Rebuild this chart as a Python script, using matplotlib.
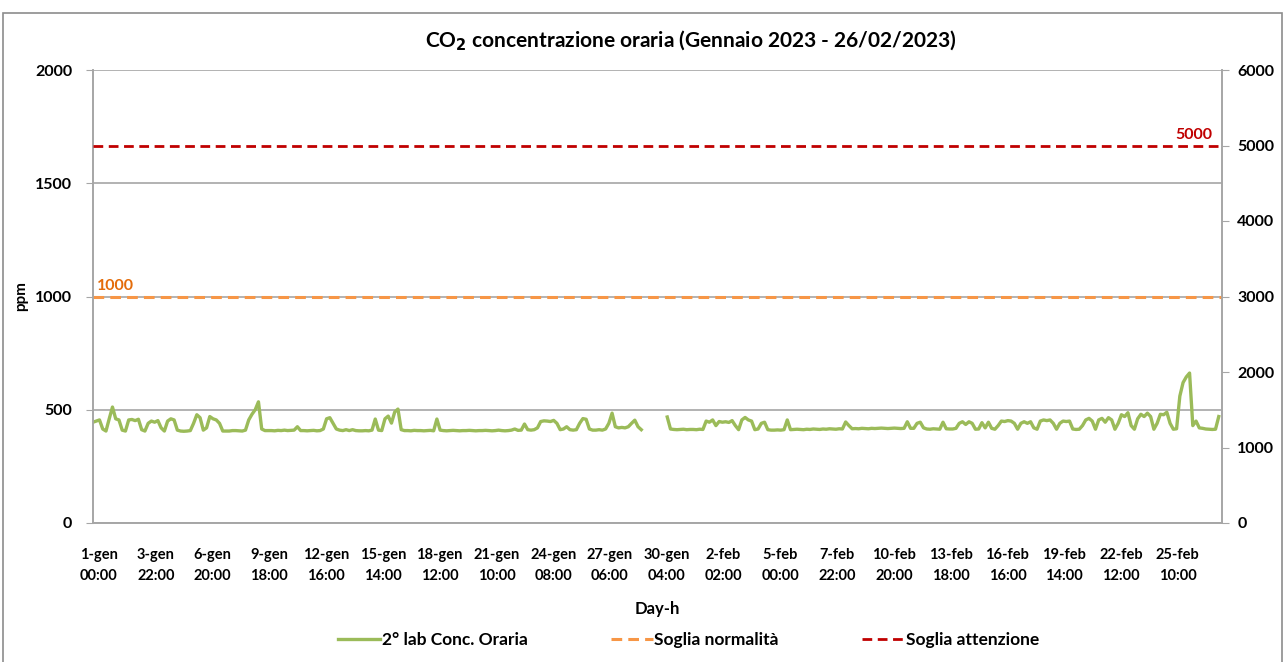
import numpy as np
import matplotlib
matplotlib.use('Agg')
import matplotlib.pyplot as plt
import matplotlib.transforms as mtransforms
from matplotlib.patches import Rectangle

plt.rcParams['font.family'] = ['Lato', 'DejaVu Sans']
plt.rcParams['font.weight'] = 'bold'

# CO2 readings, one value every 4 hours starting 1-gen 00:00 (nan = no data)
nan = np.nan
conc_4h = [
    445, 450, 455, 415, 406, 460, 512, 460, 455, 410,
    406, 455, 457, 452, 458, 412, 406, 440, 450, 445,
    452, 420, 406, 450, 460, 455, 410, 406, 405, 406,
    408, 440, 478, 465, 410, 420, 470, 460, 455, 440,
    406, 406, 406, 408, 408, 407, 406, 410, 455, 480,
    500, 535, 415, 408, 408, 408, 407, 409, 408, 410,
    408, 409, 410, 425, 408, 408, 407, 408, 409, 407,
    408, 415, 460, 465, 440, 415, 410, 408, 412, 408,
    412, 408, 407, 407, 408, 407, 410, 459, 410, 408,
    460, 472, 441, 490, 503, 412, 408, 408, 407, 409,
    408, 408, 407, 408, 409, 407, 459, 410, 408, 407,
    408, 409, 408, 407, 408, 408, 409, 408, 407, 408,
    408, 409, 408, 407, 408, 410, 408, 407, 408, 410,
    415, 409, 410, 437, 412, 410, 412, 420, 448, 451,
    450, 448, 453, 440, 412, 415, 425, 412, 410, 412,
    440, 461, 458, 415, 410, 410, 412, 410, 415, 440,
    485, 425, 420, 422, 420, 425, 440, 454, 425, 412,
    nan, nan, nan, nan, nan, nan, nan, 468, 415, 413,
    412, 413, 414, 412, 413, 413, 412, 414, 413, 450,
    445, 455, 430, 448, 445, 447, 444, 452, 430, 412,
    455, 466, 455, 450, 412, 415, 440, 445, 412, 410,
    410, 411, 410, 412, 455, 412, 413, 414, 413, 412,
    414, 413, 415, 414, 413, 415, 414, 416, 415, 414,
    416, 415, 446, 430, 416, 417, 416, 418, 417, 416,
    418, 417, 418, 419, 418, 417, 418, 419, 418, 417,
    418, 447, 418, 418, 440, 445, 420, 415, 414, 416,
    415, 414, 445, 416, 415, 415, 418, 440, 447, 435,
    447, 440, 414, 415, 443, 420, 445, 418, 414, 430,
    450, 448, 452, 450, 440, 414, 440, 447, 440, 447,
    420, 414, 450, 455, 452, 455, 440, 414, 440, 450,
    448, 450, 415, 413, 414, 430, 455, 462, 450, 414,
    455, 462, 445, 465, 455, 414, 440, 478, 470, 487,
    430, 414, 460, 480, 470, 485, 470, 414, 440, 480,
    478, 489, 440, 414, 416, 560, 620, 645, 662, 430,
    450, 420, 418, 415, 414, 413, 414, 470,
]

soglia_normalita = 1000
soglia_attenzione = 5000

tick_labels = [
    '1-gen\n00:00', '3-gen\n22:00', '6-gen\n20:00', '9-gen\n18:00',
    '12-gen\n16:00', '15-gen\n14:00', '18-gen\n12:00', '21-gen\n10:00',
    '24-gen\n08:00', '27-gen\n06:00', '30-gen\n04:00', '2-feb\n02:00',
    '5-feb\n00:00', '7-feb\n22:00', '10-feb\n20:00', '13-feb\n18:00',
    '16-feb\n16:00', '19-feb\n14:00', '22-feb\n12:00', '25-feb\n10:00',
]

green = '#9BBB59'
orange = '#F79646'
red = '#C00000'
grid_col = '#A6A6A6'

hours = np.arange(len(conc_4h)) * 4
n_hours = len(conc_4h) * 4

fig = plt.figure(figsize=(12.87, 6.62), dpi=100)
ax = fig.add_axes([93 / 1287, 1 - 523 / 662, (1222 - 93) / 1287, (523 - 70) / 662])
ax2 = ax.twinx()

# frame around the whole chart
fig.patches.append(Rectangle((3 / 1287, -0.02), 1279 / 1287, 1 - 13 / 662 + 0.02,
                             transform=fig.transFigure, fill=False,
                             edgecolor='#8C8C8C', linewidth=1.2))

l1, = ax.plot(hours, conc_4h, color=green, linewidth=2.4, label='2° lab Conc. Oraria', zorder=3)
l2 = ax.axhline(soglia_normalita, color=orange, linewidth=2.2, linestyle=(0, (3.5, 2)),
                label='Soglia normalità', zorder=3)
l3 = ax2.axhline(soglia_attenzione, color=red, linewidth=2.0, linestyle=(0, (3.5, 2)),
                 label='Soglia attenzione', zorder=3)

ax.set_xlim(0, n_hours)
ax.set_ylim(0, 2000)
ax2.set_ylim(0, 6000)
ax.set_yticks([0, 500, 1000, 1500, 2000])
ax2.set_yticks(range(0, 6001, 1000))
ax.yaxis.grid(True, color=grid_col, linewidth=1.2, zorder=0)
ax.set_axisbelow(True)

ax.set_xticks(np.arange(len(tick_labels)) * 70)
ax.set_xticklabels(tick_labels, fontsize=10.5, fontweight='bold', linespacing=1.6)
ax.tick_params(axis='x', length=0, pad=18)
ax.tick_params(axis='y', length=5, color=grid_col, labelsize=11.5, pad=10)
ax2.tick_params(axis='y', length=5, color=grid_col, labelsize=11.5, pad=6)

# nudge the category labels a bit to the right, like the original
shift = mtransforms.ScaledTranslation(6 / 100, 0, fig.dpi_scale_trans)
for lab in ax.get_xticklabels():
    lab.set_transform(lab.get_transform() + shift)

for a in (ax, ax2):
    a.spines['top'].set_visible(False)
    for s in ('left', 'right', 'bottom'):
        a.spines[s].set_color(grid_col)
        a.spines[s].set_linewidth(1.2)

ax.set_ylabel('ppm', fontsize=11, fontweight='bold')
ax.yaxis.set_label_coords(-(93 - 28) / 1129, 0.5)
ax.set_xlabel('Day-h', fontsize=12, fontweight='bold', labelpad=13)

fig.text(691 / 1287, 1 - 41 / 662,
         'CO$_\\mathbf{2}$ concentrazione oraria (Gennaio 2023 - 26/02/2023)',
         fontsize=15, fontweight='bold', ha='center', va='center')

ax.text(5, soglia_normalita + 15, '1000', color='#E46C0A', fontsize=11.5,
        fontweight='bold', va='bottom', ha='left')
ax2.text(n_hours - 12, soglia_attenzione + 45, '5000', color=red, fontsize=11.5,
         fontweight='bold', va='bottom', ha='right')

fig.legend(handles=[l1, l2, l3], loc='center', bbox_to_anchor=(0.535, 1 - 640 / 662),
           ncol=3, frameon=False, fontsize=12.5, handlelength=2.4, handletextpad=0.1,
           columnspacing=4.8)

fig.savefig('out.png', dpi=100)
